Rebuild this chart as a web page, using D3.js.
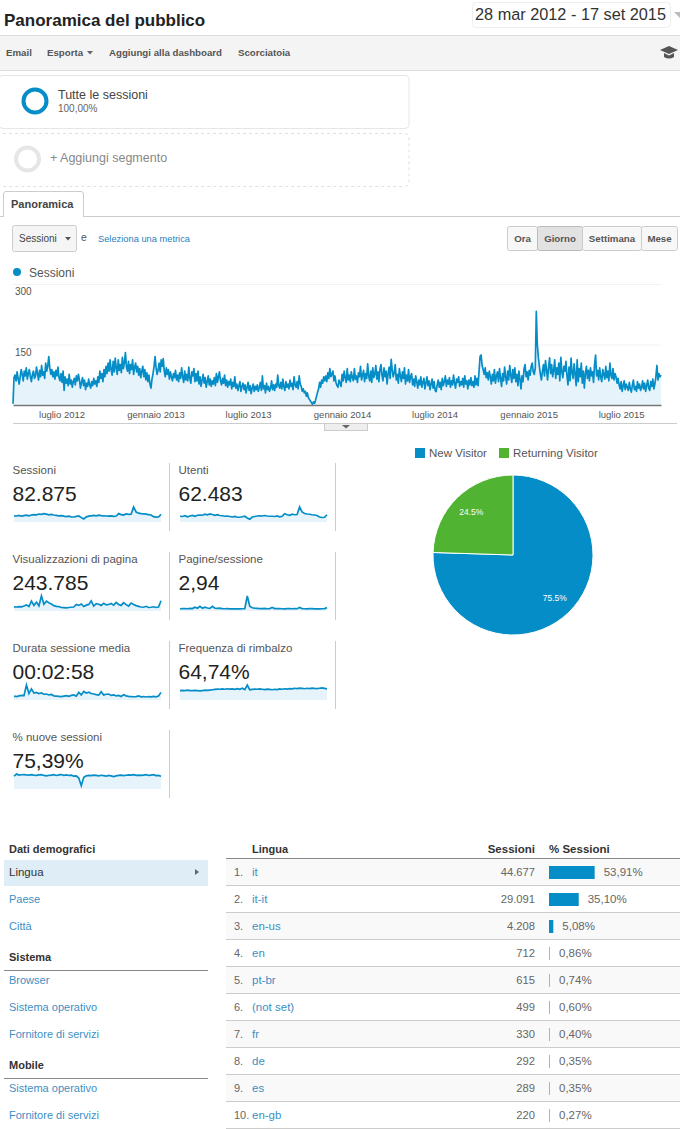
<!DOCTYPE html>
<html>
<head>
<meta charset="utf-8">
<script src="https://cdn.jsdelivr.net/npm/d3@7"></script>
<style>
  html, body { margin: 0; padding: 0; background: #fff; }
  svg { display: block; font-family: "Liberation Sans", Arial, sans-serif; }
</style>
</head>
<body>
<svg id="page" width="680" height="1129"></svg>
<script>
// one sample every 2 days
const sessioniGiorno = [
  3,68,74,60,82,66,52,70,88,76,60,84,72,92,64,78,88,70,58,76,84,66,72,94,78,62,86,70,98,74,
  82,66,104,84,96,120,92,76,88,70,82,64,86,72,94,68,60,78,56,84,36,70,54,64,48,76,52,62,44,58,
  66,50,72,60,76,62,42,56,68,48,62,38,54,46,64,50,42,58,48,66,52,60,46,70,56,84,66,78,58,88,
  70,96,78,104,84,112,88,74,108,82,116,92,76,112,86,100,80,118,90,106,130,94,84,108,78,100,88,112,76,94,
  104,82,96,74,90,68,84,96,70,88,62,80,58,74,52,42,64,78,96,120,92,76,88,104,82,112,96,115,84,70,
  92,76,88,64,82,70,60,78,68,86,62,74,58,80,66,92,70,56,84,62,76,60,94,66,54,82,72,90,58,78,
  60,84,52,70,46,62,76,54,68,44,58,72,50,64,46,60,52,68,48,78,56,70,82,60,50,66,54,74,48,62,
  44,58,50,64,40,56,46,70,42,52,36,48,58,34,46,54,38,50,30,44,56,36,48,28,42,52,34,46,38,50,
  34,44,56,36,72,40,48,30,54,38,46,34,42,60,38,50,36,52,44,74,48,42,56,40,64,46,36,58,44,52,
  40,62,46,54,38,70,50,44,58,40,72,52,46,34,40,30,34,22,30,18,14,10,6,2,8,4,12,22,32,40,
  56,44,62,54,70,60,72,58,80,66,90,70,76,84,60,72,56,48,44,62,54,46,76,60,84,68,56,90,62,74,
  58,82,68,60,90,64,72,56,80,70,96,62,74,86,58,78,66,102,72,60,84,56,92,68,76,98,64,82,58,88,
  100,74,60,92,70,84,52,78,94,66,113,88,70,80,100,62,76,54,90,72,58,82,66,92,52,74,60,88,56,70,
  78,50,64,46,72,58,42,62,50,70,44,56,66,40,54,70,48,60,38,52,64,42,58,36,33,50,62,44,56,38,
  66,48,58,72,46,62,52,68,44,60,50,74,54,42,64,56,70,46,58,50,66,44,72,52,60,40,62,50,68,48,
  58,44,72,50,66,48,84,121,124,98,88,76,92,68,80,62,84,70,52,76,60,88,54,72,82,58,90,66,46,78,
  60,94,70,52,84,62,98,74,56,88,66,92,58,76,48,84,64,40,72,58,90,100,70,82,62,86,74,96,104,82,
  76,92,232,150,118,96,76,62,84,100,72,110,88,62,94,117,78,100,70,86,112,66,92,76,104,60,118,82,68,96,
  84,108,72,50,94,60,116,80,66,102,76,48,112,58,90,70,104,54,84,42,78,96,66,86,60,92,72,82,56,100,
  124,72,86,62,92,70,58,88,76,64,96,68,84,60,104,74,66,90,62,78,70,54,66,50,40,58,34,48,60,38,
  52,44,36,56,40,32,50,62,38,46,34,58,42,52,36,44,60,40,54,34,48,62,42,36,58,46,64,40,52,70,
  98,62,78,70,74
];
const yTicks = [150, 300];
const xTickDates = ['2012-07-01', '2013-01-01', '2013-07-01', '2014-01-01', '2014-07-01', '2015-01-01', '2015-07-01'];
const xTickLabels = ['luglio 2012', 'gennaio 2013', 'luglio 2013', 'gennaio 2014', 'luglio 2014', 'gennaio 2015', 'luglio 2015'];

const metricNames = ['Sessioni', 'Utenti', 'Visualizzazioni di pagina', 'Pagine/sessione', 'Durata sessione media', 'Frequenza di rimbalzo', '% nuove sessioni'];
const metricValues = ['82.875', '62.483', '243.785', '2,94', '00:02:58', '64,74%', '75,39%'];

const sparkSessioni = [62,60,66,58,64,68,62,70,74,72,80,76,84,78,72,76,70,66,62,64,58,54,58,52,50,56,60,44,30,52,58,62,66,62,68,64,62,60,58,62,56,60,84,74,70,80,76,78,150,100,88,84,82,78,74,70,54,48,50,76];
const sparkUtenti = [46,44,50,42,48,52,46,54,56,54,62,58,64,60,54,58,52,50,46,48,44,40,44,38,38,42,46,32,22,40,44,48,50,48,52,48,46,46,44,48,42,46,66,58,54,62,58,60,120,80,68,64,62,58,56,52,40,36,38,58];
const sparkViste = [180,170,190,175,210,260,190,420,240,380,220,640,290,420,350,300,230,200,190,150,140,130,150,160,170,280,240,300,190,250,280,430,210,310,290,240,330,260,280,320,250,370,280,240,360,270,210,340,280,230,200,170,160,200,150,160,180,150,170,440];
const sparkPagine = [2.4,2.5,2.6,2.4,2.8,2.6,4,3,5,3,4,3.2,2.8,5,3,2.8,3,2.6,2.4,2.5,2.3,2.2,2.4,2.2,2.3,2.4,2.5,16,5,3.5,3,2.8,2.6,2.5,2.7,2.4,2.6,3.8,2.6,2.5,2.6,2.4,2.3,2.5,2.6,2.4,2.5,2.4,3.8,2.6,2.4,2.3,2.5,2.6,2.3,2.2,2.2,2.4,2.5,3.6];
const sparkDurata = [170,150,180,200,190,650,280,480,300,330,280,310,250,260,220,240,180,170,160,150,170,190,160,200,220,170,330,220,370,300,340,280,260,230,210,360,220,250,260,200,220,180,200,150,230,180,160,150,140,150,180,140,150,130,150,140,160,140,170,330];
const sparkRimbalzo = [58,59,57,60,58,57,59,58,56,58,60,59,61,63,65,67,66,68,66,69,67,68,65,70,66,72,64,92,63,65,67,66,68,66,64,67,65,63,66,64,68,66,69,67,70,68,72,70,73,71,69,72,70,73,71,70,72,74,71,68];
const sparkNuove = [70,82,76,78,79,77,76,78,76,75,77,78,74,72,75,76,78,74,77,79,75,77,74,76,70,72,60,18,64,72,74,73,76,74,72,75,73,70,74,72,68,72,74,76,73,75,77,76,78,75,76,74,76,78,74,76,78,73,74,70];
const sparkSeries = [sparkSessioni, sparkUtenti, sparkViste, sparkPagine, sparkDurata, sparkRimbalzo, sparkNuove];

const pieNames = ['New Visitor', 'Returning Visitor'];
const pieValues = [75.5, 24.5];
const pieColors = ['#058dc7', '#50b432'];

const lingue = ['it', 'it-it', 'en-us', 'en', 'pt-br', '(not set)', 'fr', 'de', 'es', 'en-gb'];
const lingueSessioni = ['44.677', '29.091', '4.208', '712', '615', '499', '330', '292', '289', '220'];
const linguePerc = [53.91, 35.10, 5.08, 0.86, 0.74, 0.60, 0.40, 0.35, 0.35, 0.27];

const blue = '#058dc7';
const linkBlue = '#3d8fc4';
const svg = d3.select('#page');

function label(parent, x, y, str, size, color, weight, anchor) {
  return parent.append('text')
    .attr('x', x)
    .attr('y', y)
    .attr('font-size', size)
    .attr('fill', color || '#555')
    .attr('font-weight', weight || 'normal')
    .attr('text-anchor', anchor || 'start')
    .text(str);
}

function line(parent, x1, y1, x2, y2, color, width) {
  return parent.append('line')
    .attr('x1', x1).attr('y1', y1).attr('x2', x2).attr('y2', y2)
    .attr('stroke', color).attr('stroke-width', width || 1);
}

function box(parent, x, y, w, h, fill, stroke, r) {
  return parent.append('rect')
    .attr('x', x).attr('y', y).attr('width', w).attr('height', h)
    .attr('fill', fill).attr('stroke', stroke || 'none').attr('rx', r || 0);
}

function triangle(parent, points, color) {
  return parent.append('polygon').attr('points', points).attr('fill', color);
}

// header + toolbar
const head = svg.append('g');
label(head, 4, 26, 'Panoramica del pubblico', 17, '#222', 'bold');
box(head, 472.5, 2.5, 198, 25, '#fff', '#eee', 4);
label(head, 475, 20, '28 mar 2012 - 17 set 2015', 16.3, '#333');
triangle(head, '674,12 680,12 680,18', '#bbb');
box(head, -1, 35.5, 682, 35, '#f4f4f4', '#ddd');
label(head, 6, 56, 'Email', 9.7, '#555', 'bold');
label(head, 47, 56, 'Esporta', 9.7, '#555', 'bold');
triangle(head, '87,51 93,51 90,54.5', '#666');
label(head, 109, 56, 'Aggiungi alla dashboard', 9.7, '#555', 'bold');
label(head, 238, 56, 'Scorciatoia', 9.7, '#555', 'bold');
head.append('path')
  .attr('d', 'M660,50 L669,46 L678,50 L669,54 Z M664,53 L664,57 Q669,60 674,57 L674,53 L669,55.5 Z')
  .attr('fill', '#555');

// segments
const seg = svg.append('g');
box(seg, -1, 75.5, 410, 53, '#fff', '#e6e6e6', 4);
seg.append('circle').attr('cx', 35).attr('cy', 101).attr('r', 11.5).attr('fill', 'none').attr('stroke', blue).attr('stroke-width', 4);
label(seg, 58, 99, 'Tutte le sessioni', 12.5, '#444');
label(seg, 58, 112, '100,00%', 10, '#666');
box(seg, -1, 133.5, 410, 53, '#fff', '#e0e0e0', 4).attr('stroke-dasharray', '3,3');
seg.append('circle').attr('cx', 27.5).attr('cy', 159).attr('r', 11.5).attr('fill', 'none').attr('stroke', '#e6e6e6').attr('stroke-width', 4);
label(seg, 50, 162, '+ Aggiungi segmento', 12.5, '#888');

// tab + controls
const ctrl = svg.append('g');
line(ctrl, 0, 216.5, 680, 216.5, '#ccc');
ctrl.append('path').attr('d', 'M3.5,217 V194 Q3.5,191.5 6,191.5 H81 Q83.5,191.5 83.5,194 V217').attr('fill', '#fff').attr('stroke', '#ccc');
label(ctrl, 11, 208, 'Panoramica', 11, '#444', 'bold');
box(ctrl, 12.5, 225.5, 64, 26, '#f5f5f5', '#ccc', 2);
label(ctrl, 19, 242, 'Sessioni', 10, '#444');
triangle(ctrl, '65,237 71,237 68,240.5', '#555');
label(ctrl, 81, 241, 'e', 10.5, '#555');
label(ctrl, 98, 242, 'Seleziona una metrica', 9.3, '#2a7ebc');

const btnNames = ['Ora', 'Giorno', 'Settimana', 'Mese'];
const btnEdges = [507.5, 537.5, 582.5, 641.5, 677.5];
btnNames.forEach((name, i) => {
  const pressed = name === 'Giorno';
  box(ctrl, btnEdges[i], 226.5, btnEdges[i + 1] - btnEdges[i], 24, pressed ? '#e2e2e2' : '#f7f7f7', pressed ? '#bbb' : '#ccc', 2);
  label(ctrl, (btnEdges[i] + btnEdges[i + 1]) / 2, 242, name, 9.7, '#555', 'bold', 'middle');
});

// big line chart
const startDay = new Date(2012, 2, 28);
const endDay = new Date(2015, 8, 17);
const xTime = d3.scaleTime().domain([startDay, endDay]).range([13, 661]);
const yMain = d3.scaleLinear().domain([0, 300]).range([405, 284]);
const dayOf = i => d3.timeDay.offset(startDay, i * 2);
const mainChart = svg.append('g');

mainChart.append('circle').attr('cx', 17).attr('cy', 272).attr('r', 4).attr('fill', blue);
label(mainChart, 29, 277, 'Sessioni', 12, '#555');

const yAxis = d3.axisRight(yMain).tickValues(yTicks).tickSize(648);
const yG = mainChart.append('g').attr('transform', 'translate(13,0)').call(yAxis);
yG.select('.domain').remove();
yG.selectAll('line').attr('stroke', '#f2f2f2');
yG.selectAll('text')
  .attr('x', 2).attr('dy', 10.5)
  .attr('font-family', 'inherit').attr('font-size', 10).attr('fill', '#555');

mainChart.append('path')
  .attr('fill', '#e6f3fa')
  .attr('d', d3.area().x((d, i) => xTime(dayOf(i))).y0(yMain(0)).y1(d => yMain(d))(sessioniGiorno));
mainChart.append('path')
  .attr('fill', 'none').attr('stroke', blue).attr('stroke-width', 1.7).attr('stroke-linejoin', 'round')
  .attr('d', d3.line().x((d, i) => xTime(dayOf(i))).y(d => yMain(d))(sessioniGiorno));

const parseDay = d3.timeParse('%Y-%m-%d');
const xAxis = d3.axisBottom(xTime)
  .tickValues(xTickDates.map(parseDay))
  .tickFormat((d, i) => xTickLabels[i])
  .tickSize(0);
const xG = mainChart.append('g').attr('transform', 'translate(0,405)').call(xAxis);
xG.select('.domain').attr('stroke', '#777').attr('stroke-width', 1.5);
xG.selectAll('text').attr('y', 6).attr('font-family', 'inherit').attr('font-size', 9.5).attr('fill', '#555');

line(mainChart, 13, 423.5, 677, 423.5, '#ccc');
box(mainChart, 324.5, 423.5, 43, 7, '#eee', '#ccc');
triangle(mainChart, '342,425 350,425 346,428.5', '#666');

// metric cards
const cardX = [13, 179];
const cardY = [463, 552, 641, 730];
const card = svg.selectAll('g.card')
  .data(metricNames)
  .join('g')
  .attr('class', 'card')
  .attr('transform', (d, i) => `translate(${cardX[i % 2]},${cardY[Math.floor(i / 2)]})`);

card.each(function(name, i) {
  const g = d3.select(this);
  label(g, -0.5, 11, name, 11.5, '#555');
  label(g, -0.5, 38, metricValues[i], 21, '#222');
  line(g, 156.5, 0, 156.5, 68, '#ccc');

  const values = sparkSeries[i];
  const sx = d3.scaleLinear().domain([0, values.length - 1]).range([1, 148]);
  const sy = d3.scaleLinear().domain([0, d3.max(values)]).range([59, 44]);
  g.append('path')
    .attr('fill', '#e6f3fa')
    .attr('d', d3.area().x((d, j) => sx(j)).y0(sy(0)).y1(d => sy(d))(values));
  g.append('path')
    .attr('fill', 'none').attr('stroke', blue).attr('stroke-width', 1.7)
    .attr('d', d3.line().x((d, j) => sx(j)).y(d => sy(d))(values));
});

// pie
const pieG = svg.append('g').attr('transform', 'translate(513,555)');
const arcs = d3.pie().sort(null)(pieValues);
const arc = d3.arc().innerRadius(0).outerRadius(80);
pieG.selectAll('path')
  .data(arcs)
  .join('path')
  .attr('d', arc)
  .attr('fill', (d, i) => pieColors[i])
  .attr('stroke', '#fff')
  .attr('stroke-width', 1);
const labelArc = d3.arc().innerRadius(60).outerRadius(60);
pieG.selectAll('text')
  .data(arcs)
  .join('text')
  .attr('transform', d => `translate(${labelArc.centroid(d)})`)
  .attr('text-anchor', 'middle')
  .attr('dy', 3)
  .attr('font-size', 8.5)
  .attr('fill', '#fff')
  .text(d => d.value + '%');

const pieLegendX = [415, 499];
pieNames.forEach((name, i) => {
  box(svg, pieLegendX[i], 448, 10, 10, pieColors[i]);
  label(svg, pieLegendX[i] + 14, 457, name, 11.5, '#555');
});

// left nav
const nav = svg.append('g');
function navHead(y, str) {
  label(nav, 9, y, str, 11, '#333', 'bold');
  line(nav, 4, y + 9.5, 208, y + 9.5, '#888');
}
function navLink(y, str) {
  label(nav, 9, y, str, 11, linkBlue);
}
navHead(853, 'Dati demografici');
box(nav, 4, 860, 204, 26, '#dfeef6');
label(nav, 9, 876, 'Lingua', 11.5, '#333');
triangle(nav, '195,869 195,875 199,872', '#666');
navLink(903, 'Paese');
navLink(930, 'Città');
navHead(961, 'Sistema');
navLink(984, 'Browser');
navLink(1011, 'Sistema operativo');
navLink(1038, 'Fornitore di servizi');
navHead(1069, 'Mobile');
navLink(1092, 'Sistema operativo');
navLink(1119, 'Fornitore di servizi');

// language table
const table = svg.append('g');
label(table, 252, 853, 'Lingua', 11, '#333', 'bold');
label(table, 535, 853, 'Sessioni', 11.5, '#333', 'bold', 'end');
label(table, 549, 853, '% Sessioni', 11.5, '#333', 'bold');
line(table, 226, 858.5, 680, 858.5, '#888');

const rowH = 27;
const barW = d3.scaleLinear().domain([0, 100]).range([0, 84.7]);
const rows = table.selectAll('g.row')
  .data(lingue)
  .join('g')
  .attr('class', 'row')
  .attr('transform', (d, i) => `translate(0,${859 + i * rowH})`);

rows.append('rect')
  .attr('x', 226).attr('y', 0).attr('width', 454).attr('height', rowH - 1)
  .attr('fill', (d, i) => i % 2 === 0 ? '#f9f9f9' : '#fff');
rows.append('line')
  .attr('x1', 226).attr('x2', 680).attr('y1', rowH - 0.5).attr('y2', rowH - 0.5)
  .attr('stroke', '#ccc');
rows.append('text')
  .attr('x', 234).attr('y', 17).attr('font-size', 11).attr('fill', '#666')
  .text((d, i) => (i + 1) + '.');
rows.append('text')
  .attr('x', 252).attr('y', 17).attr('font-size', 11.5).attr('fill', linkBlue)
  .text(d => d);
rows.append('text')
  .attr('x', 535).attr('y', 17).attr('font-size', 11.2).attr('fill', '#666').attr('text-anchor', 'end')
  .text((d, i) => lingueSessioni[i]);
rows.append('rect')
  .attr('x', 549).attr('y', 7).attr('height', 13)
  .attr('width', (d, i) => Math.max(1, barW(linguePerc[i])))
  .attr('fill', (d, i) => linguePerc[i] < 1 ? '#7fc3e2' : blue);
rows.append('text')
  .attr('x', (d, i) => 549 + Math.max(1, barW(linguePerc[i])) + 9)
  .attr('y', 17).attr('font-size', 11.5).attr('fill', '#666')
  .text((d, i) => linguePerc[i].toFixed(2).replace('.', ',') + '%');
</script>
</body>
</html>
